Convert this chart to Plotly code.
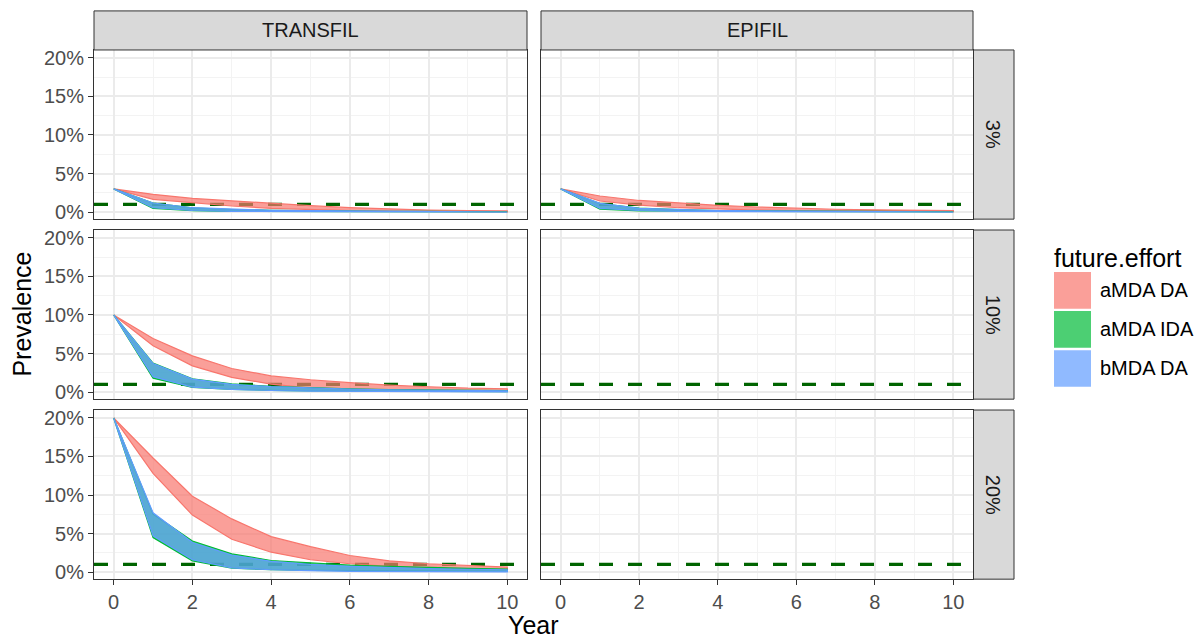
import plotly.graph_objects as go

# ---- data (prevalence, %) ----
years = [0, 1, 2, 3, 4, 5, 6, 7, 8, 9, 10]
models = ["TRANSFIL", "EPIFIL"]
baselines = ["3%", "10%", "20%"]
efforts = ["aMDA DA", "aMDA IDA", "bMDA DA"]
effort_colors = ["#F8766D", "#00BA38", "#619CFF"]
threshold = 1.0  # elimination threshold, %

# TRANSFIL, baseline 3%
tf3_ada_hi = [3.0, 2.3, 1.77, 1.43, 1.08, 0.82, 0.56, 0.4, 0.26, 0.2, 0.15]
tf3_ada_lo = [3.0, 1.65, 1.17, 0.78, 0.48, 0.3, 0.17, 0.1, 0.05, 0.03, 0.02]
tf3_aida_hi = [3.0, 1.15, 0.55, 0.33, 0.22, 0.16, 0.12, 0.1, 0.08, 0.07, 0.06]
tf3_aida_lo = [3.0, 0.48, 0.18, 0.08, 0.04, 0.03, 0.02, 0.02, 0.01, 0.01, 0.01]
tf3_bda_hi = [3.0, 1.17, 0.56, 0.35, 0.23, 0.17, 0.13, 0.1, 0.08, 0.07, 0.06]
tf3_bda_lo = [3.0, 0.56, 0.2, 0.09, 0.05, 0.03, 0.02, 0.01, 0.01, 0.01, 0.0]

# EPIFIL, baseline 3%
ef3_ada_hi = [3.0, 2.08, 1.5, 1.17, 0.87, 0.65, 0.48, 0.36, 0.28, 0.22, 0.18]
ef3_ada_lo = [3.0, 1.43, 0.9, 0.56, 0.39, 0.26, 0.17, 0.12, 0.08, 0.06, 0.05]
ef3_aida_hi = [3.0, 1.1, 0.5, 0.3, 0.2, 0.15, 0.12, 0.1, 0.08, 0.07, 0.06]
ef3_aida_lo = [3.0, 0.39, 0.15, 0.08, 0.05, 0.03, 0.02, 0.02, 0.01, 0.01, 0.01]
ef3_bda_hi = [3.0, 1.13, 0.48, 0.3, 0.2, 0.15, 0.12, 0.1, 0.08, 0.07, 0.06]
ef3_bda_lo = [3.0, 0.48, 0.2, 0.09, 0.05, 0.03, 0.02, 0.01, 0.01, 0.01, 0.0]

# TRANSFIL, baseline 10%
tf10_ada_hi = [10.0, 6.94, 4.7, 3.06, 2.1, 1.6, 1.22, 0.9, 0.69, 0.5, 0.43]
tf10_ada_lo = [10.0, 6.0, 3.4, 1.9, 1.03, 0.5, 0.38, 0.3, 0.2, 0.17, 0.13]
tf10_aida_hi = [10.0, 3.75, 1.72, 1.05, 0.75, 0.55, 0.42, 0.33, 0.27, 0.22, 0.18]
tf10_aida_lo = [10.0, 1.8, 0.6, 0.36, 0.22, 0.15, 0.1, 0.08, 0.06, 0.05, 0.04]
tf10_bda_hi = [10.0, 3.7, 1.68, 1.0, 0.7, 0.5, 0.38, 0.3, 0.24, 0.19, 0.16]
tf10_bda_lo = [10.0, 2.0, 0.65, 0.35, 0.2, 0.12, 0.08, 0.06, 0.04, 0.03, 0.02]

# TRANSFIL, baseline 20%
tf20_ada_hi = [20.0, 14.8, 9.85, 6.9, 4.6, 3.3, 2.15, 1.46, 1.08, 0.82, 0.65]
tf20_ada_lo = [20.0, 12.8, 7.4, 4.26, 2.58, 1.6, 1.08, 0.73, 0.52, 0.39, 0.3]
tf20_aida_hi = [20.0, 7.53, 4.04, 2.37, 1.5, 1.16, 0.9, 0.73, 0.56, 0.47, 0.39]
tf20_aida_lo = [20.0, 4.47, 1.46, 0.52, 0.3, 0.22, 0.17, 0.13, 0.13, 0.13, 0.13]
tf20_bda_hi = [20.0, 7.7, 3.83, 2.2, 1.4, 1.0, 0.75, 0.58, 0.45, 0.37, 0.3]
tf20_bda_lo = [20.0, 4.7, 1.6, 0.55, 0.3, 0.18, 0.1, 0.07, 0.05, 0.03, 0.02]

# panel (row, col) -> list of (hi, lo) per effort; EPIFIL 10% / 20% have no runs
panels = {
    (0, 0): [(tf3_ada_hi, tf3_ada_lo), (tf3_aida_hi, tf3_aida_lo), (tf3_bda_hi, tf3_bda_lo)],
    (0, 1): [(ef3_ada_hi, ef3_ada_lo), (ef3_aida_hi, ef3_aida_lo), (ef3_bda_hi, ef3_bda_lo)],
    (1, 0): [(tf10_ada_hi, tf10_ada_lo), (tf10_aida_hi, tf10_aida_lo), (tf10_bda_hi, tf10_bda_lo)],
    (1, 1): [],
    (2, 0): [(tf20_ada_hi, tf20_ada_lo), (tf20_aida_hi, tf20_aida_lo), (tf20_bda_hi, tf20_bda_lo)],
    (2, 1): [],
}

# ---- layout geometry (pixels) ----
W, H = 1201, 644
col_px = [(94, 527), (541, 973)]
row_px = [(47.5, 218.5), (229.5, 400.5), (411.5, 582.5)]
strip_top = 8
strip_right = (973.5, 1014)
x_range = [-0.5, 10.5]
y_range = [-0.92, 21.03]

FONT = "Liberation Sans, Arial, sans-serif"
GRID = "#EBEBEB"
MINOR_GRID = "#F3F3F3"
BORDER = "#333333"


def px_x(x):
    return x / W


def px_y(y):
    return 1 - y / H


def rgba(hex_color, a):
    h = hex_color.lstrip("#")
    r, g, b = int(h[0:2], 16), int(h[2:4], 16), int(h[4:6], 16)
    return f"rgba({r},{g},{b},{a})"


fig = go.Figure()
shapes = []
annotations = []
layout_axes = {}

for r in range(3):
    for c in range(2):
        k = r * 2 + c + 1
        xa = "xaxis" if k == 1 else f"xaxis{k}"
        ya = "yaxis" if k == 1 else f"yaxis{k}"
        xref = "x" if k == 1 else f"x{k}"
        yref = "y" if k == 1 else f"y{k}"
        bottom = r == 2
        left = c == 0
        layout_axes[xa] = dict(
            domain=[px_x(col_px[c][0]), px_x(col_px[c][1])],
            anchor=yref,
            range=x_range,
            tickvals=[0, 2, 4, 6, 8, 10],
            showticklabels=bottom,
            ticks="outside" if bottom else "",
            ticklen=5, tickwidth=1, tickcolor=BORDER,
            tickfont=dict(family=FONT, size=20, color="#4D4D4D"),
            showgrid=True, gridcolor=GRID, gridwidth=2,
            minor=dict(dtick=1, tick0=0, showgrid=True, gridcolor=MINOR_GRID, gridwidth=1, ticks=""),
            showline=True, mirror=True, linecolor=BORDER, linewidth=1,
            zeroline=False, fixedrange=True,
        )
        layout_axes[ya] = dict(
            domain=[px_y(row_px[r][1]), px_y(row_px[r][0])],
            anchor=xref,
            range=y_range,
            tickvals=[0, 5, 10, 15, 20],
            ticktext=["0%", "5%", "10%", "15%", "20%"],
            showticklabels=left,
            ticks="outside" if left else "",
            ticklen=5, tickwidth=1, tickcolor=BORDER,
            tickfont=dict(family=FONT, size=20, color="#4D4D4D"),
            showgrid=True, gridcolor=GRID, gridwidth=2,
            minor=dict(dtick=2.5, tick0=0, showgrid=True, gridcolor=MINOR_GRID, gridwidth=1, ticks=""),
            showline=True, mirror=True, linecolor=BORDER, linewidth=1,
            zeroline=False, fixedrange=True,
        )

        # elimination threshold across the full panel width
        fig.add_trace(go.Scatter(
            x=x_range, y=[threshold, threshold],
            mode="lines",
            line=dict(color="#006400", width=3.2, dash="14px,15px"),
            showlegend=False, hoverinfo="skip",
            xaxis=xref, yaxis=yref,
        ))

        # uncertainty ribbons
        for (hi, lo), name, color in zip(panels[(r, c)], efforts, effort_colors):
            fig.add_trace(go.Scatter(
                x=years + years[::-1],
                y=hi + lo[::-1],
                mode="lines",
                fill="toself",
                fillcolor=rgba(color, 0.7),
                line=dict(color=color, width=1.2),
                name=name,
                showlegend=False,
                xaxis=xref, yaxis=yref,
                hoverinfo="skip",
            ))

# strips along the top (model)
for c, label in enumerate(models):
    x0, x1 = col_px[c]
    shapes.append(dict(
        type="rect", xref="paper", yref="paper",
        x0=px_x(x0), x1=px_x(x1), y0=px_y(row_px[0][0]), y1=px_y(strip_top),
        fillcolor="#D9D9D9", line=dict(color=BORDER, width=1), layer="above",
    ))
    annotations.append(dict(
        text=label, xref="paper", yref="paper",
        x=px_x((x0 + x1) / 2), y=px_y((strip_top + row_px[0][0]) / 2),
        xanchor="center", yanchor="middle", showarrow=False,
        font=dict(family=FONT, size=20, color="#1A1A1A"),
    ))

# strips along the right (baseline prevalence)
for r, label in enumerate(baselines):
    y0, y1 = row_px[r]
    shapes.append(dict(
        type="rect", xref="paper", yref="paper",
        x0=px_x(strip_right[0]), x1=px_x(strip_right[1]), y0=px_y(y1), y1=px_y(y0),
        fillcolor="#D9D9D9", line=dict(color=BORDER, width=1), layer="above",
    ))
    annotations.append(dict(
        text=label, xref="paper", yref="paper",
        x=px_x(sum(strip_right) / 2), y=px_y((y0 + y1) / 2),
        xanchor="center", yanchor="middle", showarrow=False, textangle=90,
        font=dict(family=FONT, size=20, color="#1A1A1A"),
    ))

# axis titles
annotations.append(dict(
    text="Year", xref="paper", yref="paper",
    x=px_x((col_px[0][0] + col_px[1][1]) / 2), y=px_y(629),
    xanchor="center", yanchor="middle", showarrow=False,
    font=dict(family=FONT, size=25, color="black"),
))
annotations.append(dict(
    text="Prevalence", xref="paper", yref="paper",
    x=px_x(22), y=px_y((row_px[0][0] + row_px[2][1]) / 2),
    xanchor="center", yanchor="middle", showarrow=False, textangle=-90,
    font=dict(family=FONT, size=25, color="black"),
))

# legend
annotations.append(dict(
    text="future.effort", xref="paper", yref="paper",
    x=px_x(1052), y=px_y(258), xanchor="left", yanchor="middle", showarrow=False,
    font=dict(family=FONT, size=25, color="black"),
))
key_tops = [272, 311.5, 351]
for top, name, color in zip(key_tops, efforts, effort_colors):
    shapes.append(dict(
        type="rect", xref="paper", yref="paper",
        x0=px_x(1054), x1=px_x(1091), y0=px_y(top + 37), y1=px_y(top),
        fillcolor=rgba(color, 0.7), line=dict(width=0), layer="above",
    ))
    annotations.append(dict(
        text=name, xref="paper", yref="paper",
        x=px_x(1098), y=px_y(top + 18.5), xanchor="left", yanchor="middle", showarrow=False,
        font=dict(family=FONT, size=20, color="black"),
    ))

fig.update_layout(
    width=W, height=H,
    margin=dict(l=0, r=0, t=0, b=0),
    paper_bgcolor="white", plot_bgcolor="white",
    showlegend=False,
    shapes=shapes, annotations=annotations,
    **layout_axes,
)

fig.write_html("out.html")
